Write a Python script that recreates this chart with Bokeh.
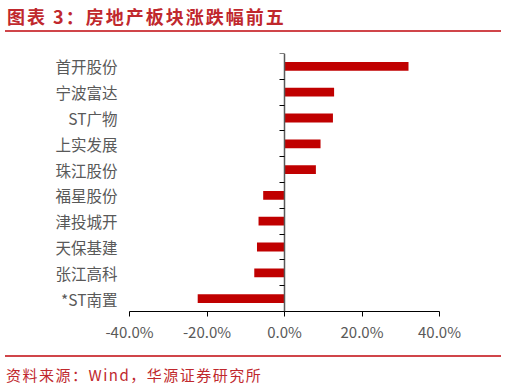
from bokeh.plotting import figure
from bokeh.models import Range1d, LinearAxis, FixedTicker, NumeralTickFormatter, Div, ColumnDataSource
from bokeh.layouts import column
from bokeh.embed import file_html
from bokeh.resources import INLINE

categories = ["首开股份", "宁波富达", "ST广物", "上实发展", "珠江股份",
              "福星股份", "津投城开", "天保基建", "张江高科", "*ST南置"]
values = [32.0, 12.8, 12.5, 9.3, 8.1, -5.5, -6.7, -7.1, -7.8, -22.4]
x_ticks = [-40, -20, 0, 20, 40]

n = len(categories)
ypos = [i + 0.5 for i in range(n)]
src = ColumnDataSource(dict(y=ypos, v=[v / 100 for v in values], cat=categories))

RED = "#C00000"
TITLE_RED = "#C0282D"
FONT = "Noto Sans CJK SC"

p = figure(width=506, height=310, output_backend="svg", toolbar_location=None,
           x_range=Range1d(-0.40, 0.40), y_range=Range1d(n, 0),
           min_border_left=129, min_border_right=67, min_border_top=13, min_border_bottom=39,
           x_axis_location=None, y_axis_location=None, margin=(0, 0, 0, 0))
p.outline_line_color = None
p.grid.visible = False
p.background_fill_color = "white"
p.border_fill_color = "white"

p.hbar(y="y", right="v", left=0, height=0.34, source=src, fill_color=RED, line_color=None)

# x axis
xa = LinearAxis(ticker=FixedTicker(ticks=[t / 100 for t in x_ticks]),
                formatter=NumeralTickFormatter(format="0.0%"))
xa.axis_line_color = "#000000"
xa.axis_line_width = 1
xa.major_tick_line_color = "#000000"
xa.major_tick_out = 5
xa.major_tick_in = 0
xa.minor_tick_line_color = None
xa.major_label_text_font = FONT
xa.major_label_text_font_size = "15px"
xa.major_label_text_color = "#595959"
xa.major_label_standoff = 4
p.add_layout(xa, "below")

# category labels (left)
ya = LinearAxis(ticker=FixedTicker(ticks=ypos),
                major_label_overrides={y: c for y, c in zip(ypos, categories)})
ya.axis_line_color = None
ya.major_tick_line_color = None
ya.minor_tick_line_color = None
ya.major_label_text_font = FONT
ya.major_label_text_font_size = "15.5px"
ya.major_label_text_color = "#595959"
ya.major_label_standoff = 6
p.add_layout(ya, "left")

# category axis line at zero with boundary ticks
ya0 = LinearAxis(ticker=FixedTicker(ticks=list(range(n + 1))), fixed_location=0)
ya0.axis_line_color = "#595959"
ya0.axis_line_width = 1.5
ya0.major_tick_line_color = "#000000"
ya0.major_tick_out = 5
ya0.major_tick_in = 0
ya0.minor_tick_line_color = None
ya0.major_label_text_font_size = "0px"
ya0.major_label_text_alpha = 0
p.add_layout(ya0, "left")

header = Div(text="图表 3：房地产板块涨跌幅前五", width=496, height=32, margin=(0, 5, 8, 5),
             styles={"font-family": FONT, "font-size": "18px", "font-weight": "bold",
                     "color": TITLE_RED, "letter-spacing": "2px",
                     "box-sizing": "border-box", "width": "496px",
                     "padding-left": "2px", "padding-top": "4px",
                     "height": "32px", "border-bottom": "2px solid #D0454A",
                     "line-height": "24px", "white-space": "nowrap"})

footer = Div(text="资料来源：Wind，华源证券研究所", width=496, height=34, margin=(5, 5, 0, 5),
             styles={"font-family": FONT, "font-size": "15px",
                     "color": TITLE_RED, "letter-spacing": "1.5px",
                     "box-sizing": "border-box", "width": "496px",
                     "padding-left": "1px", "padding-top": "8px",
                     "border-top": "2px solid #D0454A",
                     "line-height": "20px", "white-space": "nowrap"})

layout = column(header, p, footer, spacing=0, margin=(0, 0, 0, 0))
open("out.html", "w").write(file_html(layout, INLINE))
